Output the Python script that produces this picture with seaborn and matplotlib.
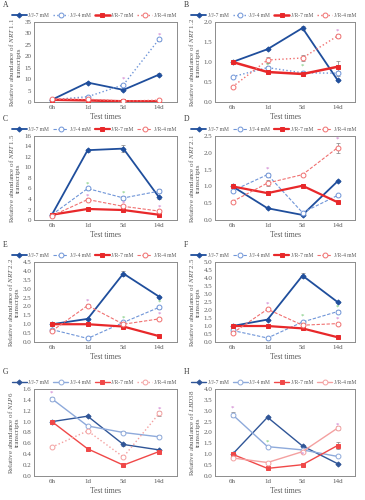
import numpy as np
import pandas as pd
import matplotlib
matplotlib.use("Agg")
import matplotlib.pyplot as plt
import seaborn as sns

sns.set_theme(style="white")
plt.rcParams['font.family'] = ['Liberation Serif', 'DejaVu Serif']
plt.rcParams['mathtext.fontset'] = 'custom'
plt.rcParams['mathtext.rm'] = 'Liberation Serif'
plt.rcParams['mathtext.it'] = 'Liberation Serif:italic'

times = ["6h", "1d", "5d", "14d"]
series_names = ["J/J-7 mM", "J/J-4 mM", "J/R-7 mM", "J/R-4 mM"]
panel_letters = ["A", "B", "C", "D", "E", "F", "G", "H"]
genes = ["NRT\\ 1.1", "NRT\\ 1.2", "NRT\\ 1.5", "NRT\\ 2.1",
         "NRT\\ 2.2", "NRT\\ 2.5", "NLP6", "LBD38"]
ymax = [35, 2.0, 16, 2.5, 4.5, 5.0, 1.6, 4.0]
ystep = [5, 0.5, 2, 0.5, 0.5, 0.5, 0.2, 0.5]
ydec = [0, 1, 0, 1, 1, 1, 1, 1]

# values per panel: JJ7, JJ4, JR7, JR4
jj7 = [[1.0, 8.5, 5.3, 12.0], [1.0, 1.32, 1.85, 0.55], [1.0, 13.3, 13.6, 4.3],
       [1.0, 0.35, 0.15, 1.15], [1.0, 1.3, 3.85, 2.55], [1.0, 1.4, 4.15, 2.5],
       [1.0, 1.1, 0.58, 0.48], [1.0, 2.7, 1.38, 0.57]]
jj4 = [[1.0, 2.3, 7.5, 27.5], [0.63, 0.86, 0.73, 0.72], [1.0, 6.0, 4.2, 5.5],
       [0.87, 1.35, 0.22, 0.73], [0.7, 0.2, 1.1, 1.95], [0.72, 0.25, 1.25, 1.9],
       [1.42, 0.92, 0.8, 0.72], [2.82, 1.35, 1.2, 0.9]]
jr7 = [[1.0, 0.7, 0.3, 0.3], [1.0, 0.75, 0.70, 0.88], [1.0, 2.1, 1.9, 1.0],
       [1.0, 0.8, 1.02, 0.53], [1.0, 1.0, 0.87, 0.33], [1.0, 1.0, 0.85, 0.3],
       [1.0, 0.5, 0.2, 0.45], [1.0, 0.35, 0.52, 1.4]]
jr4 = [[1.2, 1.2, 0.4, 0.8], [0.38, 1.05, 1.10, 1.65], [0.8, 3.9, 2.6, 1.7],
       [0.55, 1.1, 1.35, 2.15], [0.62, 2.05, 1.0, 1.3], [0.55, 2.05, 1.05, 1.15],
       [0.53, 0.83, 0.35, 1.15], [0.83, 0.62, 1.12, 2.2]]
# small error bars (same layout)
err_jj7 = [[0, 0.4, 0.3, 0.5], [0, 0.03, 0.05, 0.02], [0, 0.3, 0.6, 0.3],
           [0, 0.02, 0.02, 0.03], [0, 0.05, 0.15, 0.05], [0, 0.05, 0.15, 0.05],
           [0, 0.02, 0.02, 0.02], [0, 0.05, 0.05, 0.03]]
err_jj4 = [[0, 0.2, 0.4, 0.6], [0, 0.05, 0.05, 0.06], [0, 0.3, 0.3, 0.4],
           [0, 0.06, 0.02, 0.03], [0, 0.02, 0.08, 0.1], [0, 0.02, 0.08, 0.1],
           [0.04, 0.02, 0.02, 0.03], [0.1, 0.05, 0.05, 0.04]]
err_jr7 = [[0, 0.05, 0.02, 0.02], [0, 0.03, 0.04, 0.15], [0, 0.1, 0.1, 0.05],
           [0, 0.03, 0.03, 0.02], [0, 0.03, 0.03, 0.02], [0, 0.03, 0.03, 0.02],
           [0, 0.02, 0.02, 0.02], [0, 0.03, 0.03, 0.15]]
err_jr4 = [[0, 0.1, 0.05, 0.1], [0, 0.07, 0.08, 0.05], [0, 0.2, 0.2, 0.15],
           [0, 0.08, 0.03, 0.15], [0, 0.08, 0.05, 0.06], [0, 0.08, 0.05, 0.06],
           [0, 0.02, 0.02, 0.04], [0, 0.03, 0.05, 0.1]]
# significance asterisks: (panel, time index, y, colour key)
stars = [(0, 2, 9.8, "p"), (0, 3, 29.3, "p"),
         (1, 1, 0.93, "g"), (1, 2, 0.90, "g"), (1, 3, 1.78, "p"),
         (2, 1, 6.9, "g"), (2, 1, 4.5, "p"), (2, 2, 5.1, "g"), (2, 2, 3.3, "p"), (2, 3, 2.4, "p"),
         (3, 1, 1.5, "p"), (3, 3, 2.4, "p"),
         (4, 1, 2.3, "p"), (4, 2, 1.35, "g"), (4, 3, 2.25, "g"), (4, 3, 1.55, "p"),
         (5, 1, 2.35, "p"), (5, 2, 1.6, "g"), (5, 3, 2.15, "g"), (5, 3, 1.4, "p"),
         (6, 0, 1.53, "p"), (6, 3, 1.23, "p"),
         (7, 0, 3.1, "p"), (7, 1, 1.55, "g"), (7, 2, 1.0, "p"), (7, 3, 2.35, "p")]
star_colors = {"p": "#c86ec8", "g": "#6cc46c"}

W, H = 365, 500
fig = plt.figure(figsize=(W / 100, H / 100), dpi=100)

# axes boxes in pixels (left, top, right, bottom)
col_x = [(34, 177), (215, 355)]
row_y = [(22, 102), (136, 220), (262, 342), (389, 476)]

def styles(i):
    if i < 2:
        return [dict(color="#1f4e9c", ls="-", lw=1.3, marker="D", ms=2.6, mfc="#1f4e9c"),
                dict(color="#6f95d8", ls=":", lw=1.0, marker="o", ms=3.5, mfc="white"),
                dict(color="#e8282a", ls="-", lw=1.8, marker="s", ms=2.6, mfc="#e8282a"),
                dict(color="#f07070", ls=":", lw=1.0, marker="o", ms=3.5, mfc="white")]
    if i < 6:
        return [dict(color="#1f4e9c", ls="-", lw=1.3, marker="D", ms=2.6, mfc="#1f4e9c"),
                dict(color="#6f95d8", ls=(0, (3, 1.5)), lw=0.8, marker="o", ms=3.5, mfc="white"),
                dict(color="#e8282a", ls="-", lw=1.6, marker="s", ms=2.6, mfc="#e8282a"),
                dict(color="#f07070", ls=(0, (3, 1.5)), lw=0.8, marker="o", ms=3.5, mfc="white")]
    return [dict(color="#2f5597", ls="-", lw=1.0, marker="D", ms=2.6, mfc="#2f5597"),
            dict(color="#8eaadb", ls="-", lw=1.0, marker="o", ms=3.5, mfc="white"),
            dict(color="#f04848", ls="-", lw=1.0, marker="s", ms=2.6, mfc="#f04848"),
            dict(color="#f4a0a0", ls=(":" if i == 6 else "-"), lw=1.0, marker="o", ms=3.5, mfc="white")]

for i in range(8):
    r, c = divmod(i, 2)
    x0, x1 = col_x[c]
    yt, yb = row_y[r]
    ax = fig.add_axes([x0 / W, 1 - yb / H, (x1 - x0) / W, (yb - yt) / H])
    vals = [jj7[i], jj4[i], jr7[i], jr4[i]]
    errs = [err_jj7[i], err_jj4[i], err_jr7[i], err_jr4[i]]
    st = styles(i)
    handles = []
    for k in range(4):
        df = pd.DataFrame({"t": np.arange(len(times)), "v": vals[k]})
        s = st[k]
        ax.errorbar(df["t"], df["v"], yerr=errs[k], fmt="none", ecolor="#7f7f7f",
                    elinewidth=0.5, capsize=1.2, capthick=0.5, zorder=1)
        sns.lineplot(data=df, x="t", y="v", ax=ax, color=s["color"], linestyle=s["ls"],
                     linewidth=s["lw"], marker=s["marker"], markersize=s["ms"],
                     markerfacecolor=s["mfc"], markeredgecolor=s["color"],
                     markeredgewidth=0.7, zorder=3, legend=False)
        handles.append(plt.Line2D([], [], color=s["color"], linestyle=s["ls"], linewidth=s["lw"],
                                  marker=s["marker"], markersize=s["ms"], markerfacecolor=s["mfc"],
                                  markeredgecolor=s["color"], markeredgewidth=0.7))
    for (p, ti, yv, ck) in stars:
        if p == i:
            ax.text(ti, yv, "*", color=star_colors[ck], ha="center", va="center", fontsize=5)
    ax.set_xlim(-0.5, 3.5)
    ax.set_ylim(0, ymax[i])
    ax.set_xticks(range(len(times)))
    ax.set_xticklabels(times)
    yt_vals = np.arange(0, ymax[i] + 1e-9, ystep[i])
    ax.set_yticks(yt_vals)
    ax.set_yticklabels([f"{v:.{ydec[i]}f}" for v in yt_vals])
    ax.tick_params(axis="both", length=0, labelsize=5, labelcolor="#595959", pad=2)
    for sp in ax.spines.values():
        sp.set_color("#8c8c8c")
        sp.set_linewidth(0.7)
    ax.set_xlabel("Test times", fontsize=5.5, color="#595959", labelpad=2)
    ax.set_ylabel(f"Relative abundance of ${genes[i]}$\ntranscripts", fontsize=5,
                  color="#595959", labelpad=2, linespacing=1.0)
    ax.grid(False)
    ax.legend(handles, series_names, loc="lower center", bbox_to_anchor=(0.42, 1.0),
              ncol=4, frameon=False, fontsize=4.0, handlelength=2.7, columnspacing=0.7,
              handletextpad=0.3, borderaxespad=0.3, labelcolor="#595959")
    fig.text((x0 - 31) / W, 1 - (yt - 17) / H, panel_letters[i], fontsize=5.5,
             ha="left", va="center", color="#333333")

fig.savefig("out.png", dpi=100)
